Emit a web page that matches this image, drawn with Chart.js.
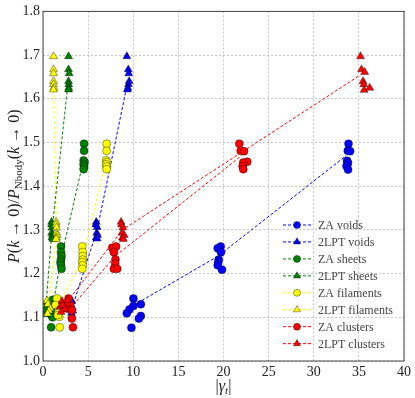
<!DOCTYPE html>
<html>
<head>
<meta charset="utf-8">
<script src="https://cdn.jsdelivr.net/npm/chart.js@4.4.1/dist/chart.umd.min.js"></script>
<style>
  html, body { margin: 0; padding: 0; background: #fff; }
  #wrap { width: 415px; height: 398px; position: relative; }
</style>
</head>
<body>
<div id="wrap"><canvas id="chart"></canvas></div>
<script>
// Series labels and colours
const seriesLabels = ['ZA voids', '2LPT voids', 'ZA sheets', '2LPT sheets',
  'ZA filaments', '2LPT filaments', 'ZA clusters', '2LPT clusters'];
const seriesColors = ['#0000ff', '#0000ff', '#008000', '#008000', '#ffff00', '#ffff00', '#ff0000', '#ff0000'];
const seriesMarkers = ['circle', 'triangle', 'circle', 'triangle', 'circle', 'triangle', 'circle', 'triangle'];

// ZA voids
const zaVoidsX = [10.02, 10.02, 10.84, 9.58, 9.29, 10.84, 10.62, 9.80,
  19.69, 19.36, 19.72, 19.47, 19.42, 19.36, 19.83,
  33.85, 33.77, 34.03, 33.69, 33.80, 33.63, 33.80];
const zaVoidsY = [1.143, 1.126, 1.130, 1.118, 1.109, 1.103, 1.097, 1.076,
  1.262, 1.258, 1.249, 1.232, 1.226, 1.219, 1.209,
  1.497, 1.481, 1.480, 1.458, 1.453, 1.446, 1.438];
const zaVoidsLineX = [10.0, 19.4, 33.6];
const zaVoidsLineY = [1.127, 1.240, 1.470];

// 2LPT voids
const lptVoidsX = [3.2, 3.1, 3.25, 3.3, 3.15,
  5.9, 5.85, 6.0, 5.95, 6.05, 5.9, 6.0,
  9.29, 9.45, 9.5, 9.55, 9.47, 9.4, 9.36];
const lptVoidsY = [1.137, 1.128, 1.122, 1.115, 1.110,
  1.318, 1.312, 1.306, 1.293, 1.288, 1.282, 1.280,
  1.697, 1.667, 1.658, 1.640, 1.633, 1.625, 1.621];
const lptVoidsLineX = [3.2, 6.0, 9.4];
const lptVoidsLineY = [1.12, 1.30, 1.64];

// ZA sheets
const zaSheetsX = [1.1, 1.15, 1.2, 1.0, 0.95, 1.05, 0.9,
  2.0, 2.0, 2.05, 2.0, 1.95, 2.0, 2.05,
  4.55, 4.55, 4.5, 4.6, 4.5, 4.55, 4.5];
const zaSheetsY = [1.140, 1.128, 1.116, 1.110, 1.105, 1.100, 1.077,
  1.262, 1.249, 1.240, 1.232, 1.226, 1.219, 1.211,
  1.497, 1.481, 1.459, 1.455, 1.450, 1.445, 1.439];
const zaSheetsLineX = [1.05, 2.0, 4.55];
const zaSheetsLineY = [1.12, 1.235, 1.465];

// 2LPT sheets
const lptSheetsX = [0.45, 0.3, 0.25, 0.35, 0.4,
  0.95, 0.95, 1.0, 0.95, 1.05, 1.0, 1.1,
  2.83, 2.83, 2.9, 2.83, 2.85, 2.85, 2.83];
const lptSheetsY = [1.135, 1.124, 1.112, 1.107, 1.118,
  1.318, 1.312, 1.305, 1.293, 1.288, 1.282, 1.279,
  1.697, 1.667, 1.658, 1.640, 1.633, 1.625, 1.621];
const lptSheetsLineX = [0.3, 1.0, 2.8];
const lptSheetsLineY = [1.12, 1.30, 1.64];

// ZA filaments
const zaFilX = [1.55, 1.4, 1.75, 1.7, 1.8, 1.65, 1.85,
  4.35, 4.4, 4.4, 4.4, 4.35, 4.4, 4.35,
  7.05, 7.05, 7.0, 7.1, 7.0, 7.05, 7.05];
const zaFilY = [1.143, 1.128, 1.116, 1.110, 1.101, 1.105, 1.077,
  1.262, 1.249, 1.240, 1.232, 1.226, 1.219, 1.211,
  1.497, 1.481, 1.459, 1.455, 1.450, 1.445, 1.439];
const zaFilLineX = [1.6, 4.4, 7.05];
const zaFilLineY = [1.12, 1.235, 1.465];

// 2LPT filaments
const lptFilX = [0.45, 0.55, 0.8, 0.65, 0.5,
  1.45, 1.45, 1.5, 1.5, 1.55, 1.5, 1.45,
  1.17, 1.17, 1.17, 1.17, 1.17, 1.2, 1.15];
const lptFilY = [1.138, 1.130, 1.120, 1.115, 1.108,
  1.318, 1.312, 1.305, 1.293, 1.288, 1.282, 1.279,
  1.697, 1.667, 1.658, 1.640, 1.633, 1.625, 1.621];
const lptFilLineX = [0.6, 1.5, 1.17];
const lptFilLineY = [1.12, 1.30, 1.64];

// ZA clusters
const zaClX = [2.83, 2.47, 3.02, 2.65, 3.2, 3.2, 3.32,
  7.67, 8.1, 7.85, 8.03, 8.0, 7.85, 8.22,
  21.75, 21.90, 22.27, 22.63, 22.19, 22.12, 22.19];
const zaClY = [1.143, 1.131, 1.128, 1.120, 1.116, 1.097, 1.077,
  1.259, 1.262, 1.249, 1.232, 1.223, 1.211, 1.211,
  1.497, 1.481, 1.480, 1.456, 1.454, 1.446, 1.439];
const zaClLineX = [3.0, 8.0, 22.0];
const zaClLineY = [1.12, 1.24, 1.47];

// 2LPT clusters
const lptClX = [2.1, 1.9, 2.65, 2.2, 2.7, 2.4, 2.0,
  8.65, 8.7, 8.85, 8.75, 9.0, 8.8, 8.9,
  35.18, 35.29, 35.65, 35.46, 35.54, 35.58, 36.2];
const lptClY = [1.137, 1.124, 1.131, 1.128, 1.139, 1.118, 1.112,
  1.318, 1.312, 1.305, 1.293, 1.288, 1.282, 1.279,
  1.697, 1.667, 1.661, 1.640, 1.633, 1.620, 1.625];
const lptClLineX = [2.3, 8.8, 35.2];
const lptClLineY = [1.125, 1.30, 1.655];

const xTicks = [0, 5, 10, 15, 20, 25, 30, 35, 40];
const yTicks = [1.0, 1.1, 1.2, 1.3, 1.4, 1.5, 1.6, 1.7, 1.8];

const pointsX = [zaVoidsX, lptVoidsX, zaSheetsX, lptSheetsX, zaFilX, lptFilX, zaClX, lptClX];
const pointsY = [zaVoidsY, lptVoidsY, zaSheetsY, lptSheetsY, zaFilY, lptFilY, zaClY, lptClY];
const linesX = [zaVoidsLineX, lptVoidsLineX, zaSheetsLineX, lptSheetsLineX, zaFilLineX, lptFilLineX, zaClLineX, lptClLineX];
const linesY = [zaVoidsLineY, lptVoidsLineY, zaSheetsLineY, lptSheetsLineY, zaFilLineY, lptFilLineY, zaClLineY, lptClLineY];

const SERIF = '"Liberation Serif", "DejaVu Serif", serif';
const EDGE = 'rgba(0,0,0,0.65)';
const markerRadius = s => (s === 'triangle' ? 4.6 : 4);

const datasets = [];
seriesLabels.forEach((label, i) => {
  datasets.push({
    label: label + ' line',
    data: linesX[i].map((x, j) => ({ x, y: linesY[i][j] })),
    showLine: true,
    borderColor: seriesColors[i],
    borderWidth: 1,
    borderDash: [3, 2],
    pointRadius: 0,
    order: 100,
  });
  datasets.push({
    label,
    data: pointsX[i].map((x, j) => ({ x, y: pointsY[i][j] })),
    showLine: false,
    pointStyle: seriesMarkers[i],
    pointRadius: markerRadius(seriesMarkers[i]),
    backgroundColor: seriesColors[i],
    borderColor: EDGE,
    pointBorderWidth: 0.6,
    order: 20 - i,
  });
});

// draws a sequence of text runs centred on (cx, cy)
function drawRuns(ctx, runs, cx, cy) {
  let total = 0;
  runs.forEach(r => { ctx.font = r.font; r.w = ctx.measureText(r.t).width; total += r.w; });
  let x = cx - total / 2;
  runs.forEach(r => {
    ctx.font = r.font;
    ctx.fillText(r.t, x, cy + (r.dy || 0));
    x += r.w;
  });
}

const decor = {
  id: 'decor',
  afterDraw(chart) {
    const { ctx, chartArea: a } = chart;
    ctx.save();
    ctx.strokeStyle = '#444';
    ctx.lineWidth = 1;
    ctx.strokeRect(a.left, a.top, a.right - a.left, a.bottom - a.top);

    ctx.fillStyle = '#222';
    ctx.textBaseline = 'alphabetic';
    const it = 'italic 16px ' + SERIF;
    const rm = '16px ' + SERIF;
    const sub = '11px ' + SERIF;
    const subIt = 'italic 11px ' + SERIF;

    // x axis title |γt|
    drawRuns(ctx, [
      { t: '|', font: rm }, { t: 'γ', font: it }, { t: 't', font: subIt, dy: 3 }, { t: '|', font: rm },
    ], (a.left + a.right) / 2, 391);

    // y axis title
    ctx.save();
    ctx.translate(19, (a.top + a.bottom) / 2);
    ctx.rotate(-Math.PI / 2);
    drawRuns(ctx, [
      { t: 'P', font: it }, { t: '(', font: rm }, { t: 'k', font: it }, { t: ' → 0)/', font: rm },
      { t: 'P', font: it }, { t: 'Nbody', font: sub, dy: 3 }, { t: '(', font: rm }, { t: 'k', font: it },
      { t: ' → 0)', font: rm },
    ], 0, 0);
    ctx.restore();

    // legend
    const lx0 = 283, lx1 = 311, mx = 297, tx = 318;
    seriesLabels.forEach((label, i) => {
      const y = 225 + i * 16.95;
      ctx.save();
      ctx.strokeStyle = seriesColors[i];
      ctx.lineWidth = 1;
      ctx.setLineDash([3, 2]);
      ctx.beginPath();
      ctx.moveTo(lx0, y);
      ctx.lineTo(lx1, y);
      ctx.stroke();
      ctx.restore();
      ctx.fillStyle = seriesColors[i];
      ctx.strokeStyle = EDGE;
      ctx.lineWidth = 0.6;
      Chart.helpers.drawPoint(ctx, {
        pointStyle: seriesMarkers[i],
        radius: markerRadius(seriesMarkers[i]) - 0.5,
        borderWidth: 0.6,
        rotation: 0,
      }, mx, y);
      ctx.fillStyle = '#444';
      ctx.font = '12px ' + SERIF;
      ctx.textBaseline = 'middle';
      ctx.fillText(label, tx, y + 1);
    });
    ctx.restore();
  },
};

const gridStyle = { color: '#b5b5b5', lineWidth: 0.8, drawTicks: false };

new Chart(document.getElementById('chart'), {
  type: 'scatter',
  data: { datasets },
  options: {
    responsive: true,
    maintainAspectRatio: false,
    animation: false,
    events: [],
    layout: { padding: { top: 10, right: 11, left: 0, bottom: 0 } },
    plugins: { legend: { display: false }, tooltip: { enabled: false } },
    scales: {
      x: {
        type: 'linear',
        min: 0,
        max: 40,
        afterBuildTicks: s => { s.ticks = xTicks.map(v => ({ value: v })); },
        afterFit: s => { s.height = 37; },
        grid: gridStyle,
        border: { display: false, dash: [2, 2] },
        ticks: {
          color: '#222',
          padding: 3,
          font: { family: SERIF, size: 14 },
          callback: v => String(v),
        },
      },
      y: {
        type: 'linear',
        min: 1.0,
        max: 1.8,
        afterBuildTicks: s => { s.ticks = yTicks.map(v => ({ value: v })); },
        afterFit: s => { s.width = 43; },
        grid: gridStyle,
        border: { display: false, dash: [2, 2] },
        ticks: {
          color: '#222',
          padding: 3,
          font: { family: SERIF, size: 14 },
          callback: v => Number(v).toFixed(1),
        },
      },
    },
  },
  plugins: [decor],
});
</script>
</body>
</html>
